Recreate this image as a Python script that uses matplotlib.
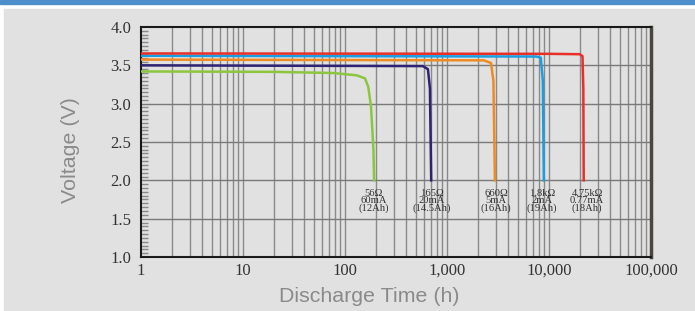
"""
Discharge curves at different loads, log time axis.
"""

import numpy as np
import matplotlib
matplotlib.use("Agg")
import matplotlib.pyplot as plt
from matplotlib.patches import Rectangle
from matplotlib.ticker import FixedLocator, FuncFormatter, MultipleLocator

PALETTE = {
    "bg":     "#e1e1e1",
    "band":   "#4d8fcb",
    "grid":   "#8a8a8a",
    "text":   "#333333",
    "label":  "#8a8a8a",
    "red":    "#e8302a",
    "blue":   "#1a9ee0",
    "orange": "#f08a22",
    "navy":   "#2e2273",
    "green":  "#8cc63f",
}

# ── data ──────────────────────────────────────────────────────────────────────

green_t = [1, 20, 76, 130, 157, 169, 180, 190, 193]
green_v = [3.42, 3.415, 3.40, 3.37, 3.33, 3.22, 2.96, 2.40, 2.0]

navy_t = [1, 580, 650, 680, 700]
navy_v = [3.50, 3.49, 3.45, 3.2, 2.0]

orange_t = [1, 2300, 2700, 2850, 2950]
orange_v = [3.575, 3.565, 3.53, 3.3, 2.0]

blue_t = [1, 7500, 8300, 8700, 8900]
blue_v = [3.625, 3.615, 3.60, 3.3, 2.0]

red_t = [1, 10000, 20000, 21300, 21700, 21900]
red_v = [3.655, 3.65, 3.645, 3.62, 3.2, 2.0]

load_labels = [
    "56Ω\n60mA\n(12Ah)",
    "165Ω\n20mA\n(14.5Ah)",
    "660Ω\n5mA\n(16Ah)",
    "1.8kΩ\n2mA\n(19Ah)",
    "4.75kΩ\n0.77mA\n(18Ah)",
]
label_t = [190, 713, 3020, 8530, 23600]
label_v = 1.73

x_ticks = [1, 10, 100, 1000, 10000, 100000]
y_ticks = [1.0, 1.5, 2.0, 2.5, 3.0, 3.5, 4.0]

series = [
    (green_t, green_v, PALETTE["green"]),
    (navy_t, navy_v, PALETTE["navy"]),
    (orange_t, orange_v, PALETTE["orange"]),
    (blue_t, blue_v, PALETTE["blue"]),
    (red_t, red_v, PALETTE["red"]),
]

# ── figure ────────────────────────────────────────────────────────────────────

W, H = 695, 311
fig = plt.figure(figsize=(W / 100, H / 100), dpi=100)
fig.patch.set_facecolor("white")

# header band + grey panel, kept behind the axes
fig.patches.append(Rectangle((0, 1 - 4 / H), 1, 4 / H, transform=fig.transFigure,
                             color=PALETTE["band"], zorder=-10))
fig.patches.append(Rectangle((4 / W, 0), 1, 1 - 9 / H, transform=fig.transFigure,
                             color=PALETTE["bg"], zorder=-10))

ax = fig.add_axes([141 / W, 1 - 257 / H, 510 / W, 230 / H])
ax.set_zorder(5)
ax.set_facecolor("none")
ax.set_xscale("log")
ax.set_xlim(1, 100000)
ax.set_ylim(1.0, 4.0)

# grid: every log minor line plus 0.5 V rows
minor_x = [m * 10 ** d for d in range(5) for m in range(2, 10)]
for x in minor_x + x_ticks[1:-1]:
    ax.axvline(x, color=PALETTE["grid"], lw=1.0, zorder=1)
for y in y_ticks[1:-1]:
    ax.axhline(y, color="#7a7a7a", lw=1.0, zorder=1)

for t, v, c in series:
    ax.plot(t, v, color=c, lw=1.8, zorder=3, solid_joinstyle="round")

for txt, t in zip(load_labels, label_t):
    ax.text(t, label_v, txt, ha="center", va="center", fontsize=7.6,
            family="Liberation Serif", color=PALETTE["text"],
            linespacing=0.8, zorder=4)

ax.xaxis.set_major_locator(FixedLocator(x_ticks))
ax.xaxis.set_minor_locator(FixedLocator([]))
ax.xaxis.set_major_formatter(FuncFormatter(lambda x, _: f"{int(x):,}"))
ax.yaxis.set_major_locator(FixedLocator(y_ticks))
ax.yaxis.set_minor_locator(MultipleLocator(0.05))
ax.yaxis.set_major_formatter(FuncFormatter(lambda y, _: f"{y:.1f}"))

ax.tick_params(axis="both", which="major", length=0, labelsize=12,
               labelcolor=PALETTE["text"])
ax.tick_params(axis="x", pad=4)
ax.tick_params(axis="y", pad=7)
ax.tick_params(axis="y", which="minor", direction="in", length=5,
               width=1.0, color="#8a8a8a")
for lab in ax.get_xticklabels() + ax.get_yticklabels():
    lab.set_family("Liberation Serif")

for side in ("left", "bottom", "top"):
    ax.spines[side].set_color("#1a1a1a")
    ax.spines[side].set_linewidth(1.5)
ax.spines["right"].set_color("#4a4540")
ax.spines["right"].set_linewidth(2.5)

fig.text(369 / W, 1 - 296 / H, "Discharge Time (h)", ha="center", va="center",
         fontsize=15.4, family="Liberation Sans", color=PALETTE["label"])
fig.text(70 / W, 1 - 150 / H, "Voltage (V)", ha="center", va="center",
         rotation=90, fontsize=15.4, family="Liberation Sans",
         color=PALETTE["label"])

fig.savefig("out.png", dpi=100, facecolor=fig.get_facecolor())
